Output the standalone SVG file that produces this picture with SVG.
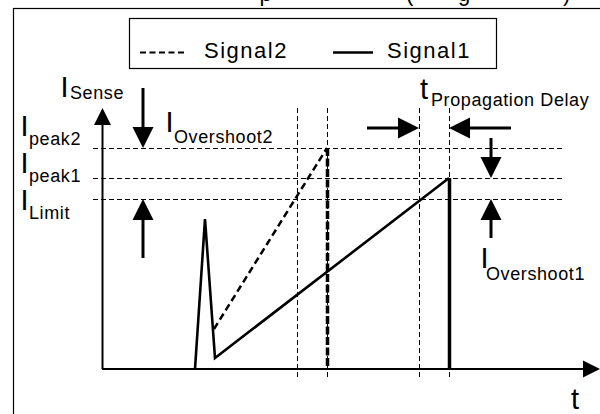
<svg xmlns="http://www.w3.org/2000/svg" width="600" height="414" viewBox="0 0 600 414">
<style>
text{font-family:"Liberation Sans",Arial,sans-serif;fill:#000}
.big{font-size:29px}
.sub{font-size:18px;letter-spacing:0.6px}
.leg{font-size:22px;letter-spacing:1.5px}
.guide{stroke:#000;stroke-width:1;stroke-dasharray:5 3;fill:none}
.arr{stroke:#000;stroke-width:3;fill:none}
.sig{stroke:#000;fill:none;stroke-linejoin:miter}
</style>
<defs>
<marker id="ah" markerUnits="userSpaceOnUse" orient="auto" markerWidth="22" markerHeight="22" refX="0" refY="10.5" overflow="visible"><path d="M0,0 L21,10.5 L0,21 z" fill="#000"/></marker>
<marker id="ax" markerUnits="userSpaceOnUse" orient="auto" markerWidth="18" markerHeight="18" refX="0" refY="8.5" overflow="visible"><path d="M0,0 L17,8.5 L0,17 z" fill="#000"/></marker>
</defs>
<rect width="600" height="414" fill="#fff"/>
<g id="title"><text class="leg" x="259.5 406 458 563" y="0.5">p(g)</text></g>
<rect id="frame" x="13.5" y="8.5" width="620" height="440" fill="none" stroke="#000" stroke-width="1.2"/>
<g id="legend">
<rect x="129.5" y="18.5" width="367" height="50" fill="none" stroke="#000" stroke-width="1.2"/>
<line x1="140" y1="52.5" x2="186" y2="52.5" stroke="#000" stroke-width="2" stroke-dasharray="6 3.5"/>
<text class="leg" x="204" y="58">Signal2</text>
<line x1="333" y1="52.5" x2="373" y2="52.5" stroke="#000" stroke-width="2.5"/>
<text class="leg" x="387" y="58">Signal1</text>
</g>
<g id="guides">
<line class="guide" x1="93" y1="148.5" x2="562" y2="148.5"/>
<line class="guide" x1="93" y1="178.5" x2="562" y2="178.5"/>
<line class="guide" x1="93" y1="199.5" x2="562" y2="199.5"/>
<line class="guide" x1="297.5" y1="108" x2="297.5" y2="380"/>
<line class="guide" x1="327.5" y1="108" x2="327.5" y2="380"/>
<line class="guide" x1="419.5" y1="108" x2="419.5" y2="380"/>
<line class="guide" x1="449.5" y1="108" x2="449.5" y2="380"/>
</g>
<g id="axes">
<line class="arr" style="stroke-width:2" x1="102.5" y1="369" x2="102.5" y2="125" marker-end="url(#ax)"/>
<line class="arr" style="stroke-width:2" x1="102" y1="369" x2="583" y2="369" marker-end="url(#ax)"/>
</g>
<g id="signal1">
<polyline class="sig" stroke-width="2.6" points="195,369 205,219 215,358 449,178"/>
<line class="sig" stroke-width="3.5" x1="449.5" y1="178" x2="449.5" y2="369"/>
</g>
<g id="signal2">
<polyline class="sig" stroke-width="2.5" stroke-dasharray="7 4" points="214,329 327,148"/>
<line class="sig" stroke-width="3.5" stroke-dasharray="8 2.5" x1="327.5" y1="148" x2="327.5" y2="369"/>
</g>
<g id="arrows">
<line class="arr" x1="143" y1="88" x2="143" y2="127" marker-end="url(#ah)"/>
<line class="arr" x1="143" y1="258" x2="143" y2="220" marker-end="url(#ah)"/>
<line class="arr" x1="367" y1="128" x2="398" y2="128" marker-end="url(#ah)"/>
<line class="arr" x1="511" y1="128" x2="470" y2="128" marker-end="url(#ah)"/>
<line class="arr" x1="491" y1="138" x2="491" y2="157" marker-end="url(#ah)"/>
<line class="arr" x1="491" y1="238" x2="491" y2="220" marker-end="url(#ah)"/>
</g>
<g id="label-isense"><text class="big" x="60.5" y="97">I</text><text class="sub" x="70" y="99">Sense</text></g>
<g id="label-ipeak2"><text class="big" x="20.5" y="136">I</text><text class="sub" x="29" y="145">peak2</text></g>
<g id="label-ipeak1"><text class="big" x="20.5" y="173">I</text><text class="sub" x="29" y="182">peak1</text></g>
<g id="label-ilimit"><text class="big" x="20.5" y="210">I</text><text class="sub" x="29" y="219">Limit</text></g>
<g id="label-iovershoot2"><text class="big" x="165.5" y="132">I</text><text class="sub" x="174" y="143">Overshoot2</text></g>
<g id="label-tprop"><text class="big" x="420" y="99">t</text><text class="sub" x="431" y="106">Propagation Delay</text></g>
<g id="label-iovershoot1"><text class="big" x="480.5" y="268">I</text><text class="sub" x="486" y="280">Overshoot1</text></g>
<g id="label-t"><text class="big" x="571" y="409">t</text></g>
</svg>
